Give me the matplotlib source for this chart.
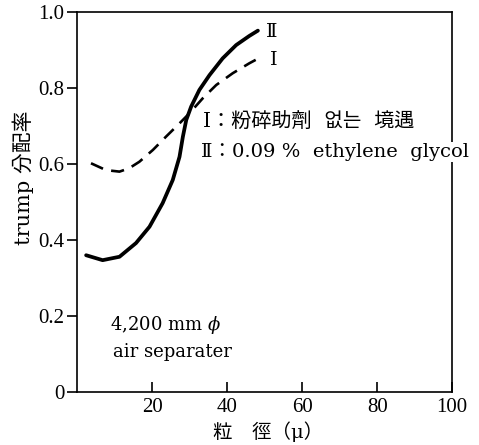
import matplotlib
matplotlib.use("Agg")
import matplotlib.pyplot as plt

plt.rcParams['font.family'] = ['Liberation Serif', 'DejaVu Serif', 'Noto Sans CJK KR']
plt.rcParams['mathtext.fontset'] = 'dejavuserif'
WIDE = ['DejaVu Serif', 'Noto Sans CJK KR']

# curve I (dashed): no grinding aid
size_1 = [3.7, 7.7, 11.3, 13.9, 16.6, 20.2, 23.7, 27.3, 29.9, 33.5, 37.1, 41.5, 45.9, 49.1]
trump_1 = [0.602, 0.584, 0.580, 0.589, 0.606, 0.637, 0.672, 0.707, 0.733, 0.773, 0.808, 0.839, 0.865, 0.882]

# curve II (solid): 0.09 % ethylene glycol
size_2 = [2.4, 6.8, 11.3, 15.7, 19.3, 22.8, 25.5, 27.3, 28.2, 29.1, 30.4, 32.6, 35.3, 38.8, 42.4, 45.9, 48.2]
trump_2 = [0.36, 0.347, 0.356, 0.392, 0.435, 0.497, 0.558, 0.619, 0.672, 0.716, 0.751, 0.795, 0.834, 0.878, 0.913, 0.937, 0.951]

xticks = [20, 40, 60, 80, 100]
yticks = [0, 0.2, 0.4, 0.6, 0.8, 1.0]
ytick_labels = ['0', '0.2', '0.4', '0.6', '0.8', '1.0']

fig = plt.figure(figsize=(4.79, 4.45), dpi=100)
ax = fig.add_axes([0.161, 0.119, 0.783, 0.854])

ax.plot(size_1, trump_1, color='black', lw=1.9, ls=(0, (5, 3.2)))
ax.plot(size_2, trump_2, color='black', lw=2.7, solid_capstyle='round', solid_joinstyle='round')

ax.set_xlim(0, 100)
ax.set_ylim(0, 1.0)
ax.set_xticks(xticks)
ax.set_xticklabels([str(t) for t in xticks], fontsize=15)
ax.set_yticks(yticks)
ax.set_yticklabels(ytick_labels, fontsize=15)
ax.tick_params(axis='x', direction='in', length=7, width=1.2, pad=4)
ax.tick_params(axis='y', direction='out', length=7, width=1.2, pad=2)
for s in ax.spines.values():
    s.set_linewidth(1.2)

ax.text(50.3, 0.948, 'Ⅱ', fontsize=14, va='center', family=WIDE)
ax.text(51.3, 0.874, 'Ⅰ', fontsize=14, va='center', family=WIDE)

ax.text(33.6, 0.711, 'Ⅰ：粉碎助劑  없는  境遇', fontsize=14.5, va='center', family=WIDE)
ax.text(33.0, 0.632, 'Ⅱ：0.09 %  ethylene  glycol', fontsize=14, va='center',
        family=WIDE, clip_on=False, zorder=5,
        bbox=dict(facecolor='white', edgecolor='none', pad=0.5))

ax.text(8.8, 0.176, '4,200 mm $\\phi$', fontsize=13, va='center', family=WIDE)
ax.text(9.5, 0.105, 'air separater', fontsize=13, va='center', family=WIDE)

ax.set_xlabel('粒　徑（μ）', fontsize=14, family=WIDE)
ax.xaxis.set_label_coords(0.51, -0.078)
ax.set_ylabel('trump 分配率', fontsize=15, family=WIDE)
ax.yaxis.set_label_coords(-0.115, 0.565)

fig.savefig('out.png', dpi=100)
